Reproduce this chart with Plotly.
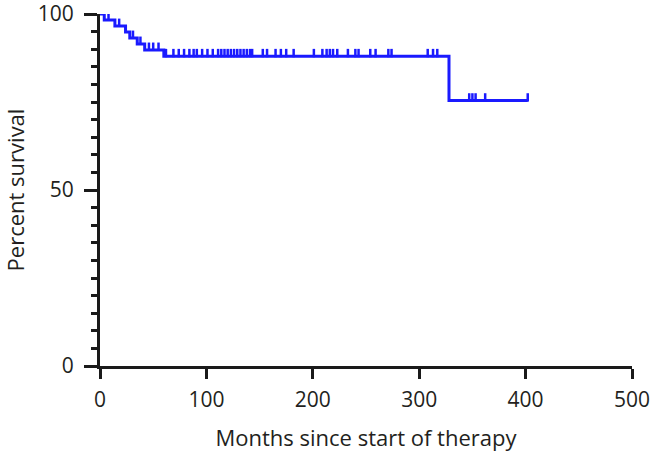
import plotly.graph_objects as go

# Kaplan-Meier step data (months, percent survival)
step_times = [0, 4, 14, 24, 28, 35, 42, 60, 328, 402]
step_surv = [100, 98.3, 96.6, 94.9, 93.2, 91.5, 89.8, 88.0, 75.4, 75.4]

# censored observations (months)
censor_times = [8, 18, 31, 38, 46, 50, 55, 62, 69, 74, 79, 84, 88, 91, 96, 101,
                106, 111, 114, 117, 120, 123, 126, 129, 132, 135, 138, 141, 143,
                153, 157, 165, 170, 175, 182, 201, 209, 213, 216, 219, 223, 233,
                240, 243, 254, 259, 271, 274, 308, 313, 317, 347, 350, 353, 362, 402]

x_ticks = [0, 100, 200, 300, 400, 500]
y_ticks = [0, 50, 100]


def surv_at(t):
    s = step_surv[0]
    for tt, ss in zip(step_times, step_surv):
        if tt <= t:
            s = ss
    return s


censor_surv = [surv_at(t) for t in censor_times]

BLUE = "#1a1aff"
TXT = "#231f20"
AX = "#1a1a1a"
FONT = "Open Sans"

fig = go.Figure()
fig.add_trace(go.Scatter(
    x=step_times, y=step_surv, mode="lines",
    line=dict(color=BLUE, width=3, shape="hv"),
    hoverinfo="skip", showlegend=False))
fig.add_trace(go.Scatter(
    x=censor_times, y=[s + 0.9 for s in censor_surv], mode="markers",
    marker=dict(symbol="line-ns-open", size=6, color=BLUE, line=dict(color=BLUE, width=2.5)),
    hoverinfo="skip", showlegend=False))

fig.update_layout(
    width=663, height=453,
    margin=dict(l=100, r=31, t=14, b=87),
    paper_bgcolor="white", plot_bgcolor="white",
    font=dict(family=FONT, size=21, color=TXT),
    hovermode=False,
    xaxis=dict(
        range=[0, 500], tickvals=x_ticks, ticktext=[str(v) for v in x_ticks],
        showgrid=False, zeroline=False, showline=True, linecolor=AX,
        linewidth=3, ticks="outside", ticklen=10, tickwidth=3, tickcolor=AX,
        tickfont=dict(family=FONT, size=21, color=TXT), automargin=False,
        ticklabeloverflow="allow", ticklabelstandoff=3,
        title=dict(text="Months since start of therapy", font=dict(family=FONT, size=22, color=TXT), standoff=19),
    ),
    yaxis=dict(
        range=[0, 100], tickvals=y_ticks, ticktext=[str(v) for v in y_ticks],
        showgrid=False, zeroline=False, showline=True, linecolor=AX,
        linewidth=3, ticks="outside", ticklen=13, tickwidth=3, tickcolor=AX,
        tickfont=dict(family=FONT, size=21, color=TXT), automargin=False,
        ticklabeloverflow="allow", ticklabelstandoff=6,
        minor=dict(dtick=5, ticks="outside", ticklen=6, tickwidth=3, tickcolor=AX, showgrid=False),
        title=dict(text="Percent survival", font=dict(family=FONT, size=22, color=TXT), standoff=53),
    ),
)

# remove the browser's default 8px body margin so the figure fills the window
fig.write_html(
    "out.html",
    config={"displayModeBar": False, "staticPlot": True},
    post_script="document.body.style.margin='0';document.body.style.overflow='hidden';",
)
